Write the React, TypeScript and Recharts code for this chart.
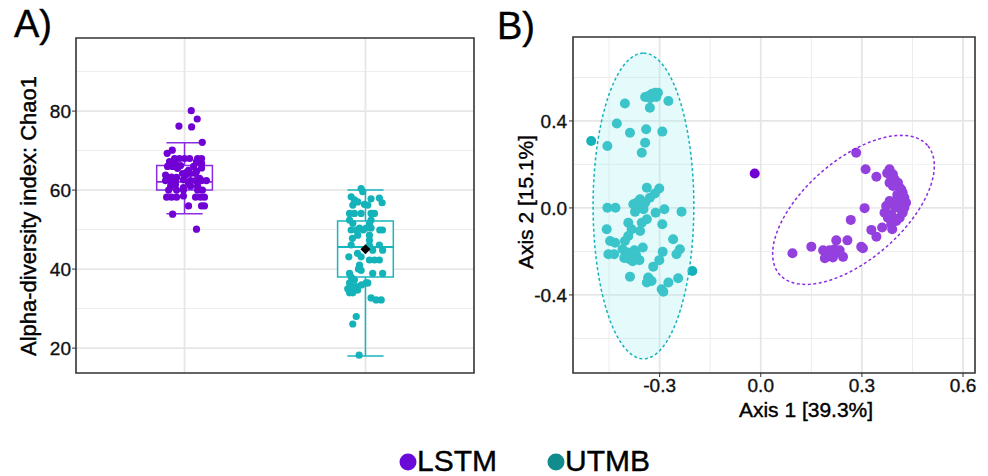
import React from 'react';
import { CartesianGrid, ReferenceArea, ReferenceLine, Scatter, ScatterChart, XAxis, YAxis } from 'recharts';

const FONT = '"Liberation Sans", Arial, sans-serif';

// ---- Panel A: Chao1 boxplots ----
const groups = ['LSTM', 'UTMB'];
const groupPos = [1, 2];
const boxQ1 = [60, 38];
const boxMedian = [62.1, 45.6];
const boxQ3 = [66.2, 52.2];
const whiskerLow = [54, 18];
const whiskerHigh = [72, 60];
const utmbMean = 45.0;

const lstmChao1 = [
  80.1, 78, 76.2, 76, 72.1, 70.1, 69.3, 68, 68, 68, 68, 68, 68, 67.2, 66.6, 67.2, 66.8,
  66, 66, 66.2, 65, 66, 64.8, 65.6, 64.2, 63.8, 64.2, 64.2, 63.8, 63.3, 63.2, 62.4, 62.4,
  62.4, 62.6, 62.4, 62.4, 62.4, 62.4, 61, 61.4, 60.6, 61, 61, 60, 60, 60, 60, 60, 58.2,
  58.2, 58.2, 58.5, 58.2, 58.2, 58.2, 56, 56, 56, 53.9, 50.1, 64.5, 65.5, 63, 61.8,
];
const lstmJitter = [
  0.037, 0.07, -0.031, 0.039, 0.098, -0.068, -0.096, -0.055, -0.028, 0, 0.028, 0.072, 0.094,
  -0.083, -0.05, 0.066, 0.094, -0.094, -0.066, -0.022, 0.022, 0.05, 0.066, 0.094, -0.011,
  0.006, 0.033, 0.061, -0.105, -0.072, -0.044, -0.105, -0.077, -0.05, -0.006, 0.033, 0.061,
  0.094, 0.121, -0.077, -0.05, -0.006, 0.033, 0.072, -0.088, -0.044, -0.006, 0.072, 0.099,
  -0.099, -0.072, -0.044, -0.006, 0.061, 0.088, 0.11, 0.022, 0.094, 0.11, -0.066, 0.066,
  0.011, -0.039, 0.083, 0.022,
];
const utmbChao1 = [
  60.4, 59.6, 58.3, 57.5, 57.8, 58, 56.8, 57, 56.4, 56.2, 56.2, 54.1, 54.1, 54.1, 54.1, 54.1,
  52.4, 52.4, 51.6, 51.6, 50.4, 50.4, 50.4, 49.9, 49.9, 49.9, 49.9, 49.9, 48.6, 48.6, 47.3,
  46, 46.1, 46.1, 44.8, 44.8, 43.1, 43.1, 42.3, 42.3, 42.3, 41, 39.7, 38.9, 38.9, 38.9, 38,
  37.3, 36.5, 35.6, 35.6, 35, 34.7, 34.7, 36.5, 36.5, 34, 34, 32.7, 32.2, 32.2, 28, 26.1,
  18.2, 47.8, 44, 40, 36,
];
const utmbJitter = [
  -0.024, -0.015, -0.079, -0.061, 0.031, 0.077, 0.092, -0.043, -0.006, 0.013, -0.07, -0.088,
  -0.061, -0.024, 0.031, 0.05, -0.088, 0.031, 0.022, -0.07, -0.033, 0.004, 0.031, -0.079,
  -0.05, -0.013, 0.079, 0.094, -0.043, 0.022, 0.022, 0.022, -0.079, 0.077, 0.095, 0.04,
  -0.092, -0.024, 0.022, 0.05, 0.077, -0.033, -0.024, 0.04, 0.095, -0.088, -0.079, -0.061,
  -0.088, -0.07, -0.051, -0.098, -0.07, -0.043, 0.004, 0.013, -0.088, -0.07, 0.031, 0.059,
  0.087, -0.051, -0.07, -0.035, -0.072, -0.044, -0.039, -0.022,
];
const chaoTicks = [20, 40, 60, 80];
const chaoMinor = [30, 50, 70, 90];

// ---- Panel B: PCoA ----
const utmbAxis1 = [
  -0.503, -0.403, -0.427, -0.388, -0.455, -0.34, -0.343, -0.353, -0.292, -0.329, -0.274,
  -0.343, -0.333, -0.323, -0.313, -0.305, -0.318, -0.31, -0.328,
  -0.338, -0.301, -0.314, -0.329, -0.358, -0.368, -0.378, -0.343, -0.348, -0.363, -0.373,
  -0.455, -0.431, -0.312, -0.286, -0.235, -0.338, -0.353, -0.393, -0.383, -0.393, -0.403,
  -0.358, -0.292, -0.457, -0.447, -0.432, -0.452, -0.435,
  -0.41, -0.4, -0.39, -0.38, -0.37, -0.36, -0.395, -0.385, -0.375, -0.405,
  -0.35, -0.26, -0.24, -0.25, -0.291, -0.301, -0.319, -0.203, -0.388, -0.334, -0.324,
  -0.338, -0.274, -0.245, -0.294, -0.289,
];
const utmbAxis2 = [
  0.308, 0.48, 0.388, 0.346, 0.285, 0.362, 0.3, 0.254, 0.351, 0.461, 0.492,
  0.51, 0.515, 0.525, 0.53, 0.53, 0.515, 0.51, 0.505,
  0.093, 0.089, 0.066, 0.047, 0.04, 0.024, 0.017, 0.024, -0.006, 0.001, -0.018,
  0.001, 0.001, -0.022, -0.006, -0.017, -0.052, -0.068, -0.068, -0.098, -0.129, -0.152,
  -0.106, -0.075, -0.098, -0.152, -0.16, -0.213, -0.213,
  -0.19, -0.213, -0.235, -0.245, -0.215, -0.24, -0.205, -0.22, -0.195, -0.23,
  -0.182, -0.144, -0.19, -0.213, -0.202, -0.24, -0.27, -0.29, -0.316, -0.32, -0.336,
  -0.343, -0.343, -0.323, -0.374, -0.385,
];
const lstmAxis1 = [
  -0.018, 0.283, 0.311, 0.343,
  0.382, 0.392, 0.397, 0.407, 0.412, 0.421, 0.426, 0.431, 0.426, 0.421, 0.412, 0.402, 0.387,
  0.377, 0.387, 0.397, 0.382, 0.372, 0.367, 0.402, 0.412, 0.392, 0.382, 0.407,
  0.417, 0.422, 0.416, 0.395, 0.405, 0.387, 0.375,
  0.308, 0.267, 0.36, 0.328, 0.343, 0.39, 0.257, 0.224, 0.298, 0.303, 0.15, 0.094,
  0.185, 0.195, 0.204, 0.214, 0.224, 0.234, 0.244, 0.19, 0.219,
];
const lstmAxis2 = [
  0.158, 0.254, 0.178, 0.143,
  0.178, 0.155, 0.132, 0.116, 0.093, 0.07, 0.047, 0.024, 0.001, -0.022, -0.045, -0.06, -0.075,
  -0.045, -0.029, 0.009, 0.032, 0.009, -0.022, 0.032, 0.047, 0.101, 0.116, 0.001,
  0.085, 0.04, 0.015, -0.06, 0.06, 0.14, 0.16,
  -0.001, -0.055, -0.09, -0.101, -0.132, -0.098, -0.149, -0.149, -0.179, -0.185, -0.178, -0.208,
  -0.195, -0.225, -0.195, -0.228, -0.205, -0.195, -0.225, -0.231, -0.19,
];
// 95% ellipses: centre plus the two semi-axis vectors, in axis units
const utmbEllipse = { cx: -0.348, cy: 0.009, ux: 0, uy: 0.703, vx: 0.1495, vy: 0 };
const lstmEllipse = { cx: 0.275, cy: -0.009, ux: 0.2197, uy: 0.2966, vx: -0.0963, vy: 0.172 };
const axis1Ticks = [-0.3, 0, 0.3, 0.6];
const axis1Minor = [-0.45, -0.15, 0.15, 0.45];
const axis2Ticks = [-0.4, 0, 0.4];
const axis2Minor = [-0.6, -0.2, 0.2, 0.6];

const PURPLE = '#7000d4';
const PURPLE_BOX = '#8b2be2';
const CYAN = '#14b3ba';
const CYAN_BOX = '#18b6be';

const outline = (e: typeof utmbEllipse) =>
  Array.from({ length: 97 }, (_, i) => {
    const t = (i / 96) * Math.PI * 2;
    return { x: e.cx + e.ux * Math.cos(t) + e.vx * Math.sin(t), y: e.cy + e.uy * Math.cos(t) + e.vy * Math.sin(t) };
  });

const dot = (r: number, fill: string) => (p: any) => <circle cx={p.cx} cy={p.cy} r={r} fill={fill} />;
const diamond = (p: any) => (
  <polygon points={`${p.cx},${p.cy - 5} ${p.cx + 5},${p.cy} ${p.cx},${p.cy + 5} ${p.cx - 5},${p.cy}`} fill="#000" />
);
const noShape = () => <g />;

// slight stroke to mimic the heavier type of the original
const tickStyle = { fontSize: 19, fill: '#111', stroke: '#111', strokeWidth: 0.35, fontFamily: FONT };

const PanelA = () => {
  const lstm = lstmChao1.map((y, i) => ({ x: groupPos[0] + lstmJitter[i], y }));
  const utmb = utmbChao1.map((y, i) => ({ x: groupPos[1] + utmbJitter[i], y }));
  const xDom: [number, number] = [0.4, 2.6];
  const yDom: [number, number] = [13.7, 98.5];
  const boxColors = [PURPLE_BOX, CYAN_BOX];
  return (
    <ScatterChart width={490} height={400} margin={{ top: 38, right: 16, bottom: 27, left: 0 }}>
      <CartesianGrid horizontalValues={chaoMinor} verticalValues={[]} vertical={false} stroke="#ececec" strokeWidth={1} />
      <CartesianGrid horizontalValues={chaoTicks} verticalValues={groupPos} stroke="#e6e6e6" strokeWidth={1.8} />
      <XAxis type="number" dataKey="x" domain={xDom} hide />
      <YAxis type="number" dataKey="y" domain={yDom} ticks={chaoTicks} width={76} axisLine={false}
        tickSize={4} tickMargin={1} tickLine={{ stroke: '#333' }} tick={tickStyle} allowDataOverflow />
      {groups.map((g, i) => (
        <ReferenceLine key={g + 'wl'} segment={[{ x: groupPos[i], y: whiskerLow[i] }, { x: groupPos[i], y: boxQ1[i] }]} stroke={boxColors[i]} strokeWidth={1.5} />
      ))}
      {groups.map((g, i) => (
        <ReferenceLine key={g + 'wh'} segment={[{ x: groupPos[i], y: boxQ3[i] }, { x: groupPos[i], y: whiskerHigh[i] }]} stroke={boxColors[i]} strokeWidth={1.5} />
      ))}
      {groups.map((g, i) => (
        <ReferenceLine key={g + 'cl'} segment={[{ x: groupPos[i] - 0.1, y: whiskerLow[i] }, { x: groupPos[i] + 0.1, y: whiskerLow[i] }]} stroke={boxColors[i]} strokeWidth={1.5} />
      ))}
      {groups.map((g, i) => (
        <ReferenceLine key={g + 'ch'} segment={[{ x: groupPos[i] - 0.1, y: whiskerHigh[i] }, { x: groupPos[i] + 0.1, y: whiskerHigh[i] }]} stroke={boxColors[i]} strokeWidth={1.5} />
      ))}
      {groups.map((g, i) => (
        <ReferenceArea key={g + 'box'} x1={groupPos[i] - 0.154} x2={groupPos[i] + 0.154} y1={boxQ1[i]} y2={boxQ3[i]}
          fill="#fff" fillOpacity={1} stroke={boxColors[i]} strokeWidth={1.5} />
      ))}
      {groups.map((g, i) => (
        <ReferenceLine key={g + 'med'} segment={[{ x: groupPos[i] - 0.154, y: boxMedian[i] }, { x: groupPos[i] + 0.154, y: boxMedian[i] }]} stroke={boxColors[i]} strokeWidth={1.8} />
      ))}
      <Scatter data={lstm} shape={dot(3.6, PURPLE)} isAnimationActive={false} />
      <Scatter data={utmb} shape={dot(3.6, CYAN)} isAnimationActive={false} />
      <Scatter data={[{ x: groupPos[1], y: utmbMean }]} shape={diamond} isAnimationActive={false} />
      <ReferenceArea x1={xDom[0]} x2={xDom[1]} y1={yDom[0]} y2={yDom[1]} fill="none" stroke="#333" strokeWidth={1.6} />
    </ScatterChart>
  );
};

const PanelB = () => {
  const utmb = utmbAxis1.map((x, i) => ({ x, y: utmbAxis2[i] }));
  const lstm = lstmAxis1.map((x, i) => ({ x, y: lstmAxis2[i] }));
  const xDom: [number, number] = [-0.557, 0.6355];
  const yDom: [number, number] = [-0.759, 0.786];
  return (
    <ScatterChart width={498} height={420} margin={{ top: 37, right: 13, bottom: 0, left: 0 }}>
      <CartesianGrid horizontalValues={axis2Minor} verticalValues={axis1Minor} stroke="#ececec" strokeWidth={1} />
      <CartesianGrid horizontalValues={axis2Ticks} verticalValues={axis1Ticks} stroke="#e6e6e6" strokeWidth={1.8} />
      <XAxis type="number" dataKey="x" domain={xDom} ticks={axis1Ticks} height={47} axisLine={false}
        tickSize={4} tickMargin={2} tickLine={{ stroke: '#333' }} tick={tickStyle} allowDataOverflow
        tickFormatter={(v: number) => v.toFixed(1)} />
      <YAxis type="number" dataKey="y" domain={yDom} ticks={axis2Ticks} width={83} axisLine={false}
        tickSize={4} tickMargin={2} tickLine={{ stroke: '#333' }} tick={tickStyle} allowDataOverflow
        tickFormatter={(v: number) => v.toFixed(1)} />
      <Scatter data={utmb} shape={dot(5, CYAN)} isAnimationActive={false} />
      <Scatter data={lstm} shape={dot(5, PURPLE)} isAnimationActive={false} />
      <Scatter data={outline(utmbEllipse)} shape={noShape} isAnimationActive={false}
        line={{ stroke: CYAN, strokeWidth: 1.5, strokeDasharray: '3 2.5', fill: 'rgb(160,240,240)', fillOpacity: 0.28 }} />
      <Scatter data={outline(lstmEllipse)} shape={noShape} isAnimationActive={false}
        line={{ stroke: PURPLE_BOX, strokeWidth: 1.5, strokeDasharray: '3 2.5', fill: '#ffffff', fillOpacity: 0.25 }} />
      <ReferenceArea x1={xDom[0]} x2={xDom[1]} y1={yDom[0]} y2={yDom[1]} fill="none" stroke="#333" strokeWidth={1.6} />
    </ScatterChart>
  );
};

export default function App() {
  const heavy = { stroke: '#000', strokeWidth: 0.4 };
  return (
    <div style={{ position: 'fixed', left: 0, top: 0, width: 988, height: 476, background: '#fff', overflow: 'hidden', fontFamily: FONT }}>
      <div style={{ position: 'absolute', left: 0, top: 0 }}><PanelA /></div>
      <div style={{ position: 'absolute', left: 490, top: 0 }}><PanelB /></div>
      <svg width={988} height={476} style={{ position: 'absolute', left: 0, top: 0, pointerEvents: 'none' }} fontFamily={FONT}>
        <text x={14} y={37} fontSize={38} fill="#000" {...heavy}>A)</text>
        <text x={497} y={39} fontSize={38} fill="#000" {...heavy}>B)</text>
        <text transform="translate(36,216) rotate(-90)" textAnchor="middle" fontSize={22} fill="#000" {...heavy}>Alpha-diversity index: Chao1</text>
        <text transform="translate(533,202) rotate(-90)" textAnchor="middle" fontSize={21} fill="#000" {...heavy}>Axis 2 [15.1%]</text>
        <text x={806} y={417} textAnchor="middle" fontSize={21} fill="#000" {...heavy}>Axis 1 [39.3%]</text>
        <circle cx={408} cy={462} r={8.5} fill="#6a0ad8" />
        <text x={417} y={471} fontSize={30} fill="#000" {...heavy}>LSTM</text>
        <circle cx={556} cy={462} r={8.5} fill="#118b8b" />
        <text x={565} y={471} fontSize={30} fill="#000" {...heavy}>UTMB</text>
      </svg>
    </div>
  );
}
